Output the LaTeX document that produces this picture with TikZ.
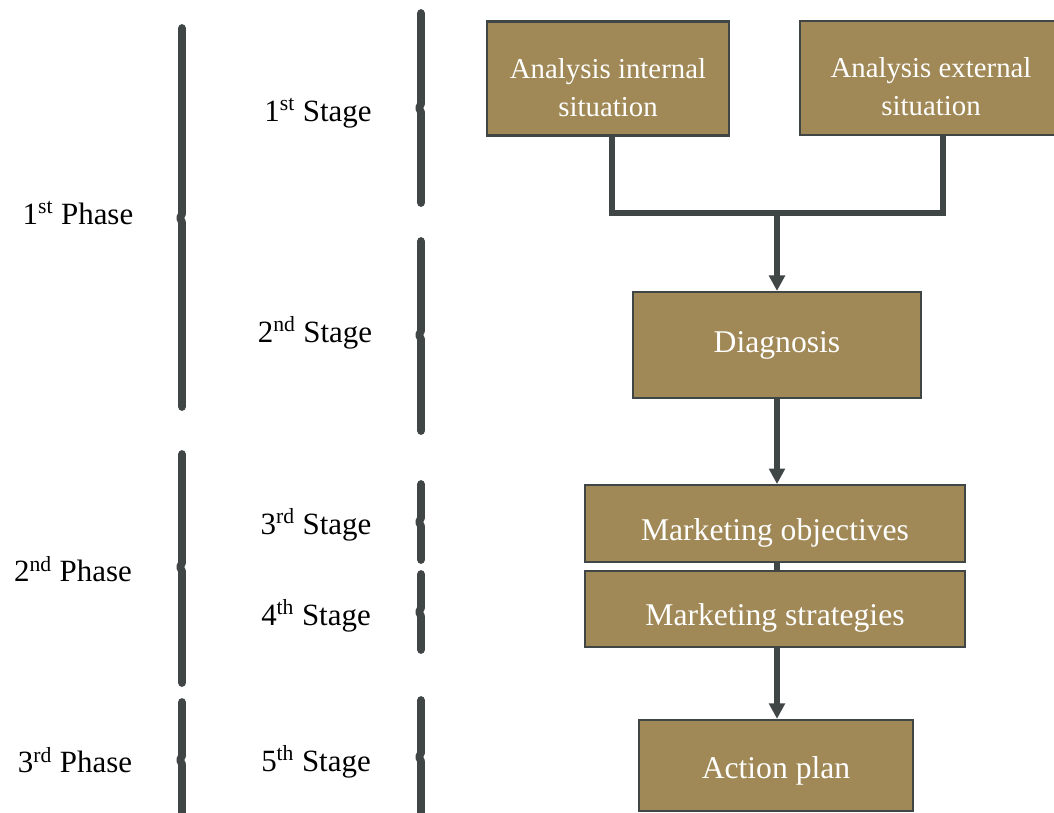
\documentclass[tikz,border=0pt]{standalone}
\usepackage{fontspec}
\setmainfont{Liberation Serif}
\usepackage{tikz}
\usetikzlibrary{arrows.meta}
\definecolor{boxfill}{RGB}{160,137,86}
\definecolor{linegray}{RGB}{64,69,69}

\begin{document}
\begin{tikzpicture}[x=0.025cm,y=-0.025cm,
		box/.style={draw=linegray, line width=1.5pt, fill=boxfill, text=white, align=center, inner sep=0pt, font=\fontsize{22.5}{27}\selectfont},
		twoline/.style={box, font=\fontsize{20.5}{27}\selectfont},
		lbl/.style={font=\fontsize{22}{26}\selectfont},
		brack/.style={draw=linegray, line width=5.5pt, line cap=round, line join=round},
		conn/.style={draw=linegray, line width=3.6pt},
		arr/.style={conn, -{Triangle[width=11pt,length=11pt]}}]
					\useasboundingbox (0,0) rectangle (1054,812);
					\node[twoline, minimum width=6.05cm, minimum height=2.85cm] (intern) at (608,78.5) {\rule{0pt}{27pt}Analysis internal\\situation};
					\node[twoline, minimum width=6.55cm, minimum height=2.85cm] (extern) at (931,78) {\rule{0pt}{27pt}Analysis external\\situation};
					\node[box, minimum width=7.2cm, minimum height=2.65cm] (diag) at (777,345) {Diagnosis};
					\node[box, minimum width=9.5cm, minimum height=1.92cm, text height=24pt, text depth=0pt] (obj) at (775,523.5) {Marketing objectives};
					\node[box, minimum width=9.5cm, minimum height=1.9cm, text height=24pt, text depth=0pt] (strat) at (775,609) {Marketing strategies};
					\node[box, minimum width=6.85cm, minimum height=2.28cm, text height=19pt, text depth=0pt] (plan) at (776,765.5) {Action plan};
					\coordinate (join) at (777,213);
					\draw[conn] (612,136) |- (join);
					\draw[conn] (943,136) |- (join);
					\draw[arr] (join) -- (join |- diag.north);
					\draw[arr] (diag.south -| join) -- (obj.north -| join);
					\draw[conn] (obj.south -| join) -- (strat.north -| join);
					\draw[arr] (strat.south -| join) -- (plan.north -| join);
					\node[lbl] (p1) at (78,213) {1\textsuperscript{st} Phase};
					\node[lbl] (p2) at (73,569) {2\textsuperscript{nd} Phase};
					\node[lbl] (p3) at (75,760) {3\textsuperscript{rd} Phase};
					\node[lbl] (s1) at (318,113) {1\textsuperscript{st} Stage};
					\node[lbl] (s2) at (315,333) {2\textsuperscript{nd} Stage};
					\node[lbl] (s3) at (316,525) {3\textsuperscript{rd} Stage};
					\node[lbl] (s4) at (316,616) {4\textsuperscript{th} Stage};
					\node[lbl] (s5) at (316,762) {5\textsuperscript{th} Stage};
					\draw[brack] (182,28) -- (182,214) -- (180,218) -- (182,222) -- (182,407);
					\draw[brack] (182,454) -- (182,563) -- (180,567) -- (182,571) -- (182,683);
					\draw[brack] (182,702) -- (182,756) -- (180,760) -- (182,764) -- (182,820);
					\draw[brack] (421,13) -- (421,104) -- (419,108) -- (421,112) -- (421,203);
					\draw[brack] (421,241) -- (421,331) -- (419,335) -- (421,339) -- (421,431);
					\draw[brack] (421,484) -- (421,518) -- (419,522) -- (421,526) -- (421,560);
					\draw[brack] (421,574) -- (421,608) -- (419,612) -- (421,616) -- (421,650);
					\draw[brack] (421,700) -- (421,753) -- (419,757) -- (421,761) -- (421,820);
				\end{tikzpicture}
\end{document}
